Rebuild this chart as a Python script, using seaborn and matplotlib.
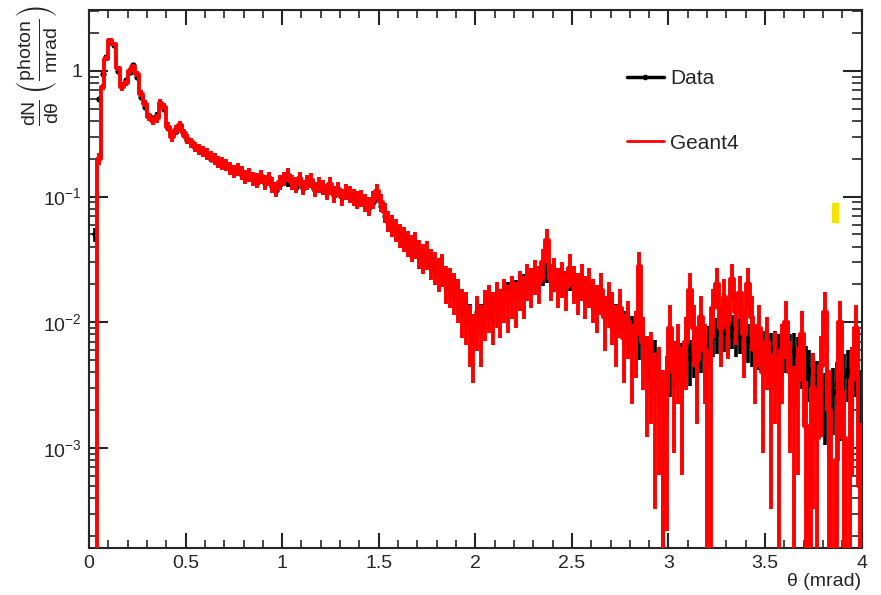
import numpy as np
import seaborn as sns
import matplotlib.pyplot as plt
from matplotlib.ticker import MultipleLocator, FixedLocator, LogLocator, NullFormatter
from matplotlib.patches import Rectangle
from matplotlib.lines import Line2D

# Bin centres (0.02 mrad bins from 0 to 4 mrad)
theta = np.arange(0.01, 4.0, 0.02)
bin_half = 0.01

# Geant4 simulation, dN/dtheta (photon/mrad)
geant4 = [
    0.0, 0.0, 0.20, 0.75, 1.25, 1.75, 1.65, 1.05, 0.74, 0.80,
    1.00, 1.08, 0.95, 0.66, 0.55, 0.43, 0.40, 0.42, 0.56, 0.52,
    0.36, 0.30, 0.34, 0.37, 0.32, 0.29, 0.27, 0.25, 0.24, 0.23,
    0.22, 0.21, 0.20, 0.19, 0.185, 0.18, 0.17, 0.16, 0.165, 0.155,
    0.145, 0.15, 0.14, 0.135, 0.145, 0.13, 0.14, 0.125, 0.115, 0.13,
    0.14, 0.15, 0.13, 0.125, 0.14, 0.12, 0.13, 0.135, 0.115, 0.125,
    0.12, 0.11, 0.125, 0.105, 0.115, 0.10, 0.11, 0.105, 0.10, 0.095,
    0.098, 0.09, 0.085, 0.095, 0.11, 0.09, 0.075, 0.065, 0.06, 0.055,
    0.05, 0.047, 0.043, 0.04, 0.042, 0.036, 0.033, 0.035, 0.03, 0.028,
    0.025, 0.027, 0.021, 0.02, 0.018, 0.016, 0.013, 0.012, 0.009, 0.0075,
    0.011, 0.009, 0.0125, 0.014, 0.012, 0.015, 0.013, 0.016, 0.014, 0.017,
    0.015, 0.019, 0.017, 0.022, 0.02, 0.024, 0.021, 0.03, 0.045, 0.022,
    0.025, 0.02, 0.023, 0.019, 0.027, 0.021, 0.018, 0.022, 0.017, 0.02,
    0.016, 0.014, 0.018, 0.011, 0.015, 0.012, 0.009, 0.013, 0.0075, 0.01,
    0.006, 0.008, 0.028, 0.007, 0.0045, 0.005, 0.003, 0.0035, 0.002, 0.0028,
    0.009, 0.004, 0.006, 0.0035, 0.007, 0.018, 0.009, 0.005, 0.011, 0.006,
    0.0, 0.013, 0.02, 0.009, 0.016, 0.01, 0.022, 0.012, 0.017, 0.008,
    0.02, 0.011, 0.006, 0.009, 0.004, 0.007, 0.003, 0.005, 0.0025, 0.006,
    0.01, 0.004, 0.0022, 0.0035, 0.008, 0.0015, 0.0, 0.003, 0.0012, 0.0045,
    0.012, 0.002, 0.0, 0.0008, 0.01, 0.0012, 0.0, 0.0035, 0.009, 0.0005,
]

# Measured data
data = [
    0.0, 0.05, 0.60, 0.95, 1.30, 1.70, 1.60, 1.00, 0.78, 0.85,
    0.98, 1.12, 0.90, 0.62, 0.52, 0.44, 0.42, 0.45, 0.55, 0.50,
    0.35, 0.31, 0.33, 0.36, 0.31, 0.28, 0.27, 0.25, 0.235, 0.225,
    0.215, 0.20, 0.195, 0.19, 0.18, 0.175, 0.165, 0.158, 0.16, 0.15,
    0.14, 0.145, 0.138, 0.13, 0.14, 0.128, 0.135, 0.122, 0.112, 0.125,
    0.135, 0.13, 0.125, 0.12, 0.13, 0.118, 0.125, 0.128, 0.112, 0.12,
    0.115, 0.108, 0.118, 0.104, 0.11, 0.10, 0.106, 0.10, 0.098, 0.093,
    0.096, 0.088, 0.082, 0.09, 0.10, 0.085, 0.07, 0.063, 0.058, 0.052,
    0.05, 0.045, 0.044, 0.039, 0.04, 0.036, 0.034, 0.033, 0.03, 0.028,
    0.026, 0.024, 0.022, 0.02, 0.019, 0.016, 0.014, 0.013, 0.011, 0.009,
    0.012, 0.011, 0.013, 0.014, 0.013, 0.015, 0.015, 0.016, 0.017, 0.018,
    0.018, 0.019, 0.02, 0.021, 0.022, 0.023, 0.022, 0.024, 0.025, 0.023,
    0.024, 0.022, 0.023, 0.021, 0.022, 0.02, 0.019, 0.02, 0.018, 0.017,
    0.016, 0.015, 0.016, 0.013, 0.014, 0.012, 0.011, 0.012, 0.0095, 0.01,
    0.0085, 0.009, 0.0075, 0.0068, 0.0055, 0.0045, 0.0052, 0.004, 0.0009, 0.0035,
    0.0045, 0.005, 0.0055, 0.0048, 0.006, 0.0052, 0.0058, 0.005, 0.0062, 0.0055,
    0.007, 0.0078, 0.0082, 0.009, 0.0085, 0.008, 0.0088, 0.0078, 0.0082, 0.0075,
    0.0072, 0.0068, 0.007, 0.0065, 0.0062, 0.0066, 0.006, 0.0063, 0.0058, 0.006,
    0.0062, 0.0058, 0.006, 0.0055, 0.005, 0.0045, 0.0042, 0.0038, 0.0033, 0.0028,
    0.0025, 0.0022, 0.0028, 0.0032, 0.0026, 0.0038, 0.0042, 0.0035, 0.0045, 0.0027,
]

# effective number of entries per unit, used for Poisson error bars
g4_norm = 420.0
data_norm = 1200.0

y_ticks = [1e-3, 1e-2, 1e-1, 1]
y_ticklabels = ['$10^{-3}$', '$10^{-2}$', '$10^{-1}$', '1']

sns.set_style('ticks')
plt.rcParams['font.family'] = ['Liberation Sans', 'DejaVu Sans']
plt.rcParams['mathtext.default'] = 'regular'

g4 = np.array(geant4)
dd = np.array(data)

def poisson_err(v, norm):
    err = np.sqrt(v / norm)
    lo = np.where(v > 0, np.minimum(err, v - 1e-7), 0.0)
    return np.vstack([lo, err * (v > 0)])

fig = plt.figure(figsize=(8.81, 5.95), dpi=100)
ax = fig.add_axes([0.101, 0.079, 0.877, 0.904])

# Data: markers with bin-width and statistical error bars
mask = dd > 0
ax.errorbar(theta[mask], dd[mask], xerr=bin_half, yerr=poisson_err(dd[mask], data_norm),
            fmt='o', color='black', ms=3.5, mfc='none', mew=1.0,
            elinewidth=2.6, capsize=0, zorder=2)

# Geant4: step histogram with error bars
g4_draw = np.where(g4 > 0, g4, 1e-6)
sns.lineplot(x=theta, y=g4_draw, drawstyle='steps-mid', color='red',
             linewidth=2.8, ax=ax, zorder=3)
ax.errorbar(theta, g4_draw, yerr=poisson_err(g4, g4_norm), fmt='none',
            ecolor='red', elinewidth=2.8, capsize=0, zorder=3)

ax.set_yscale('log')
ax.set_xlim(0, 4)
ax.set_ylim(1.6e-4, 3.05)

ax.xaxis.set_major_locator(MultipleLocator(0.5))
ax.xaxis.set_minor_locator(MultipleLocator(0.1))
ax.xaxis.set_major_formatter(plt.FuncFormatter(lambda v, p: '%g' % v))
ax.yaxis.set_major_locator(FixedLocator(y_ticks))
ax.set_yticklabels(y_ticklabels)
ax.yaxis.set_minor_locator(LogLocator(base=10, subs=np.arange(2, 10)))
ax.yaxis.set_minor_formatter(NullFormatter())

ax.tick_params(which='both', direction='in', top=True, right=True, labelsize=14)
ax.tick_params(axis='y', which='major', length=14, width=1.5, pad=5)
ax.tick_params(axis='y', which='minor', length=7, width=1.2)
ax.tick_params(axis='x', which='major', length=11, width=1.5, pad=5)
ax.tick_params(axis='x', which='minor', length=6, width=1.2)
for s in ax.spines.values():
    s.set_linewidth(1.5)

ax.set_xlabel('θ (mrad)', loc='right', fontsize=14, labelpad=1)
ax.set_ylabel(r'$\frac{dN}{d\theta}\,\left(\frac{photon}{mrad}\right)$',
              loc='top', fontsize=20)
ax.yaxis.set_label_coords(-0.038, 1.01)

# legend, no frame
handles = [Line2D([], [], color='black', lw=2.5, marker='o', ms=3),
           Line2D([], [], color='red', lw=2)]
ax.legend(handles, ['Data', 'Geant4'], loc='upper left',
          bbox_to_anchor=(0.683, 0.91), frameon=False, fontsize=15,
          handlelength=1.75, handletextpad=0.3, labelspacing=2.2, borderpad=0)

# small yellow box on the right
fig.patches.append(Rectangle((0.9444, 0.627), 0.0068, 0.032, color='#f5e400',
                             transform=fig.transFigure, figure=fig))

fig.savefig('out.png', dpi=100)
